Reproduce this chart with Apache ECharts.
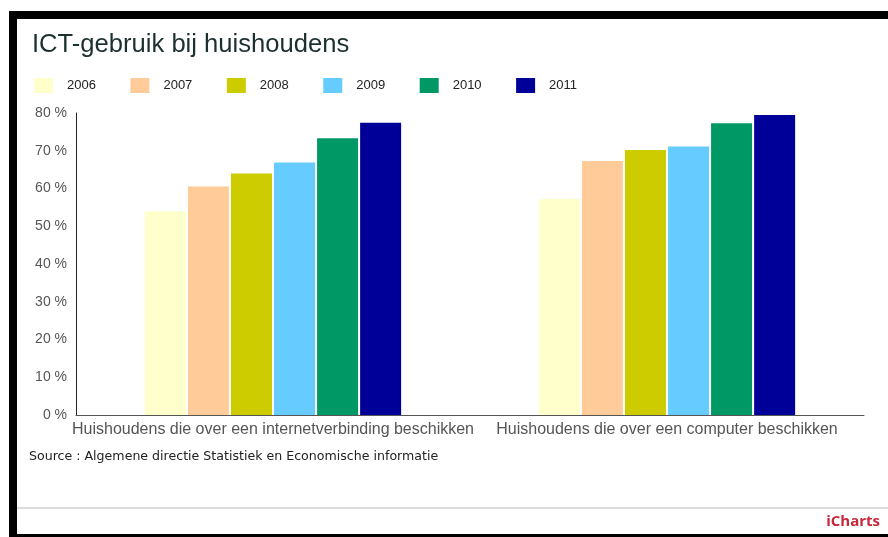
<!DOCTYPE html>
<html>
<head>
<meta charset="utf-8">
<script src="https://cdn.jsdelivr.net/npm/echarts/dist/echarts.min.js"></script>
<style>
  html, body { margin: 0; padding: 0; background: #fff; }
  #chart { width: 888px; height: 537px; }
</style>
</head>
<body>
<div id="chart"></div>
<script>
const categories = [
  'Huishoudens die over een internetverbinding beschikken',
  'Huishoudens die over een computer beschikken'
];
const years = ['2006', '2007', '2008', '2009', '2010', '2011'];
const values2006 = [54.0, 57.2];
const values2007 = [60.5, 67.3];
const values2008 = [64.0, 70.2];
const values2009 = [66.9, 71.1];
const values2010 = [73.3, 77.3];
const values2011 = [77.4, 79.5];
const seriesValues = [values2006, values2007, values2008, values2009, values2010, values2011];
const colors = ['#ffffcc', '#ffcc99', '#cccc00', '#66ccff', '#009966', '#000099'];
const yTicks = { min: 0, max: 80, interval: 10 };
const titleText = 'ICT-gebruik bij huishoudens';
const sourceText = 'Source : Algemene directie Statistiek en Economische informatie';
const brandText = 'iCharts';

const FONT = '"Liberation Sans", Arial, sans-serif';
const chart = echarts.init(document.getElementById('chart'), null, { renderer: 'canvas' });

const option = {
  backgroundColor: '#ffffff',
  animation: false,
  color: colors,
  title: {
    text: titleText,
    left: 27,
    top: 27,
    textStyle: { fontFamily: FONT, fontSize: 25.6, fontWeight: 'normal', color: '#1c3030' }
  },
  legend: {
    data: years,
    left: 29,
    top: 73,
    icon: 'rect',
    itemWidth: 19,
    itemHeight: 15,
    itemGap: 34.5,
    textStyle: { fontFamily: FONT, fontSize: 13, color: '#222', padding: [0, 0, 0, 9] }
  },
  grid: { left: 76, right: 24, top: 113, bottom: 122, containLabel: false },
  xAxis: {
    type: 'category',
    data: categories,
    axisLine: { lineStyle: { color: '#555', width: 1 } },
    axisTick: { show: false },
    axisLabel: { interval: 0, fontFamily: FONT, fontSize: 16, color: '#555', margin: 7 }
  },
  yAxis: {
    type: 'value',
    min: yTicks.min,
    max: yTicks.max,
    interval: yTicks.interval,
    axisLine: { show: true, lineStyle: { color: '#222', width: 1 } },
    axisTick: { show: false },
    splitLine: { show: false },
    axisLabel: { fontFamily: FONT, fontSize: 14, color: '#555', margin: 9, formatter: '{value} %' }
  },
  series: years.map((y, i) => ({
    name: y,
    type: 'bar',
    data: seriesValues[i],
    barWidth: 41,
    barGap: '5%',
    itemStyle: { color: colors[i] }
  })),
  graphic: [
    { type: 'rect', shape: { x: 9, y: 11, width: 879, height: 8 }, style: { fill: '#000' } },
    { type: 'rect', shape: { x: 9, y: 11, width: 8, height: 526 }, style: { fill: '#000' } },
    { type: 'rect', shape: { x: 9, y: 534, width: 879, height: 3 }, style: { fill: '#000' } },
    { type: 'line', shape: { x1: 17, y1: 508, x2: 888, y2: 508 }, style: { stroke: '#dddddd', lineWidth: 2 } },
    { type: 'text', left: 29, top: 450, style: { text: sourceText, font: '12.6px "DejaVu Sans", sans-serif', fill: '#222' } },
    { type: 'text', right: 8, top: 514, style: { text: brandText, font: 'bold 15px "Open Sans", sans-serif', fill: '#c8283c' } }
  ]
};
chart.setOption(option);
</script>
</body>
</html>
